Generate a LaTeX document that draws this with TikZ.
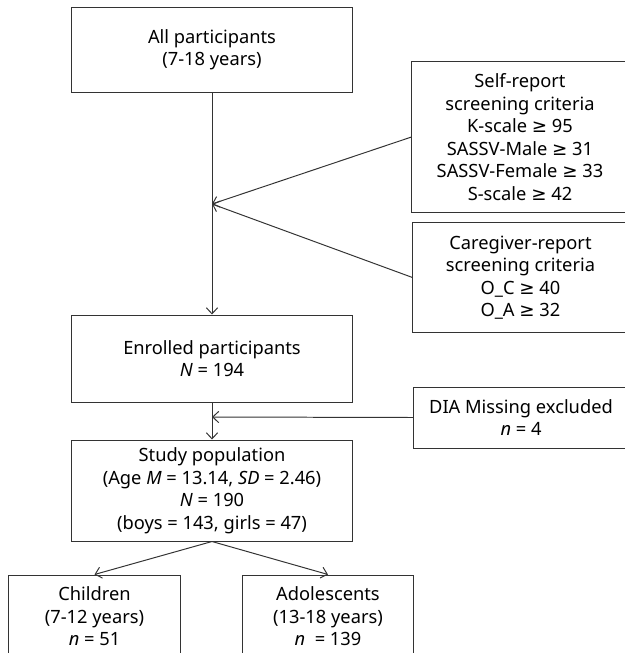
\documentclass[tikz,border=0pt]{standalone}
\usepackage{fontspec}
\setmainfont{Noto Sans}
\newfontfamily\symfont{DejaVu Sans}
\newcommand{\gesym}{{\symfont ≥}}
\usepackage{tikz}
\usetikzlibrary{arrows.meta, positioning}
\tikzset{>={Straight Barb[length=1.5mm, width=2.8mm]}}
\tikzset{
  box/.style={draw=black!80, line width=0.7pt, align=center, inner sep=0pt,
    font=\fontsize{13}{16}\selectfont},
  flow/.style={->, draw=black!80, line width=0.7pt}
}

\begin{document}
\begin{tikzpicture}[x=0.025cm, y=-0.025cm]
\useasboundingbox (0,0) rectangle (625,653);

% Main column
\node[box, minimum width=7cm, minimum height=2.125cm] (all) at (212,49.5)
  {All participants\\(7-18 years)};
\node[box, minimum width=7cm, minimum height=2.175cm] (enrolled) at (212,358.5)
  {Enrolled participants\\\textit{N} = 194};
\node[box, minimum width=7cm, minimum height=2.525cm] (study) at (212,490.5)
  {Study population\\(Age \textit{M} = 13.14, \textit{SD} = 2.46)\\\textit{N} = 190\\(boys = 143, girls = 47)};

% Screening criteria (right side)
\node[box, minimum width=5.4cm, minimum height=3.75cm] (self) at (520,137)
  {Self-report\\screening criteria\\K-scale \gesym{} 95\\SASSV-Male \gesym{} 31\\SASSV-Female \gesym{} 33\\S-scale \gesym{} 42};
\node[box, minimum width=5.375cm, minimum height=2.725cm] (care) at (520.5,277.5)
  {Caregiver-report\\screening criteria\\O\_C \gesym{} 40\\O\_A \gesym{} 32};
\node[box, minimum width=5.35cm, minimum height=1.525cm] (dia) at (521,417.5)
  {DIA Missing excluded\\\textit{n} = 4};

% Age groups
\node[box, minimum width=4.275cm, minimum height=2.075cm] (child) at (94.5,616.5)
  {Children\\(7-12 years)\\\textit{n} = 51};
\node[box, minimum width=4.25cm, minimum height=2.075cm] (adol) at (328,616.5)
  {Adolescents\\(13-18 years)\\\textit{n} \ = 139};

% Merge points
\coordinate (j1) at (212,204);
\coordinate (j2) at (212,417);

% Arrows
\draw[flow] (all.south) -- (enrolled.north);
\draw[flow] (self.west) -- (j1);
\draw[flow] (care.west) -- (j1);
\draw[flow] (enrolled.south) -- (study.north);
\draw[flow] (dia.west) -- (j2);
\draw[flow] (study.south) -- (child.north);
\draw[flow] (study.south) -- (adol.north);

\end{tikzpicture}
\end{document}
